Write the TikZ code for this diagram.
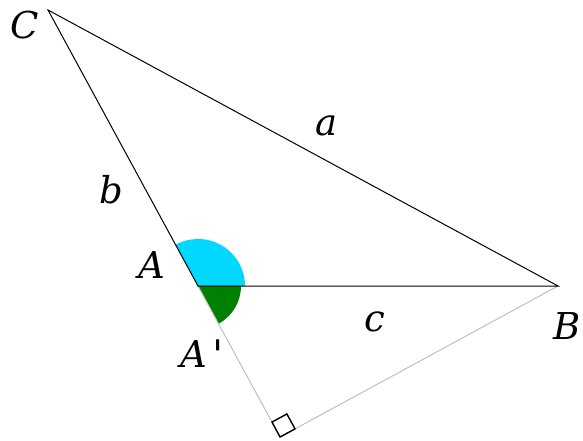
\documentclass[tikz,border=0pt]{standalone}
\usepackage{graphicx}
\usepackage{fontspec}
\setmainfont{DejaVu Serif}
\usetikzlibrary{calc}
\definecolor{angcyan}{RGB}{0,216,255}
\definecolor{anggreen}{RGB}{0,128,0}

\begin{document}
\begin{tikzpicture}[
    x=0.5pt, y=0.5pt,
    font=\fontsize{18.5}{22}\selectfont\itshape,
    side/.style={draw=black, line width=0.5pt},
    aux/.style={draw=black!25, line width=0.5pt},
    lbl/.style={inner sep=0pt}
]
\useasboundingbox (0,0) rectangle (583,440);

\coordinate (A) at (198,154);
\coordinate (B) at (558,154);
\coordinate (C) at (48,430);
\coordinate (F) at ($(A)!(B)!(C)$);

% angles at A
\fill[angcyan] (A) -- ++(0:47) arc (0:118.52:47) -- cycle;
\fill[anggreen] (A) -- ++(-61.48:43) arc (-61.48:0:43) -- cycle;

\draw[aux] (A) -- (F) -- (B);
\draw[side] (C) -- (A) -- (B) -- cycle;

% right angle mark
\coordinate (Fa) at ($(F)!8.5pt!(A)$);
\coordinate (Fb) at ($(F)!8.5pt!(B)$);
\draw[line width=0.7pt] (F) -- (Fa) -- ($(Fa)+(Fb)-(F)$) -- (Fb) -- cycle;

\node[lbl] (labC) at (25,415) {C};
\node[lbl] (labA) at (152,175) {A};
\node[lbl] (labB) at (567,114) {B};
\node[lbl, anchor=base west] (labAp) at (180,73) {A\kern0.14em\raisebox{-0.08em}{\scalebox{1.1}{\textquotesingle}}};
\node[lbl] (laba) at (327,314) {a};
\node[lbl] (labb) at (111,250) {b};
\node[lbl] (labc) at (375,118) {c};

\end{tikzpicture}
\end{document}
